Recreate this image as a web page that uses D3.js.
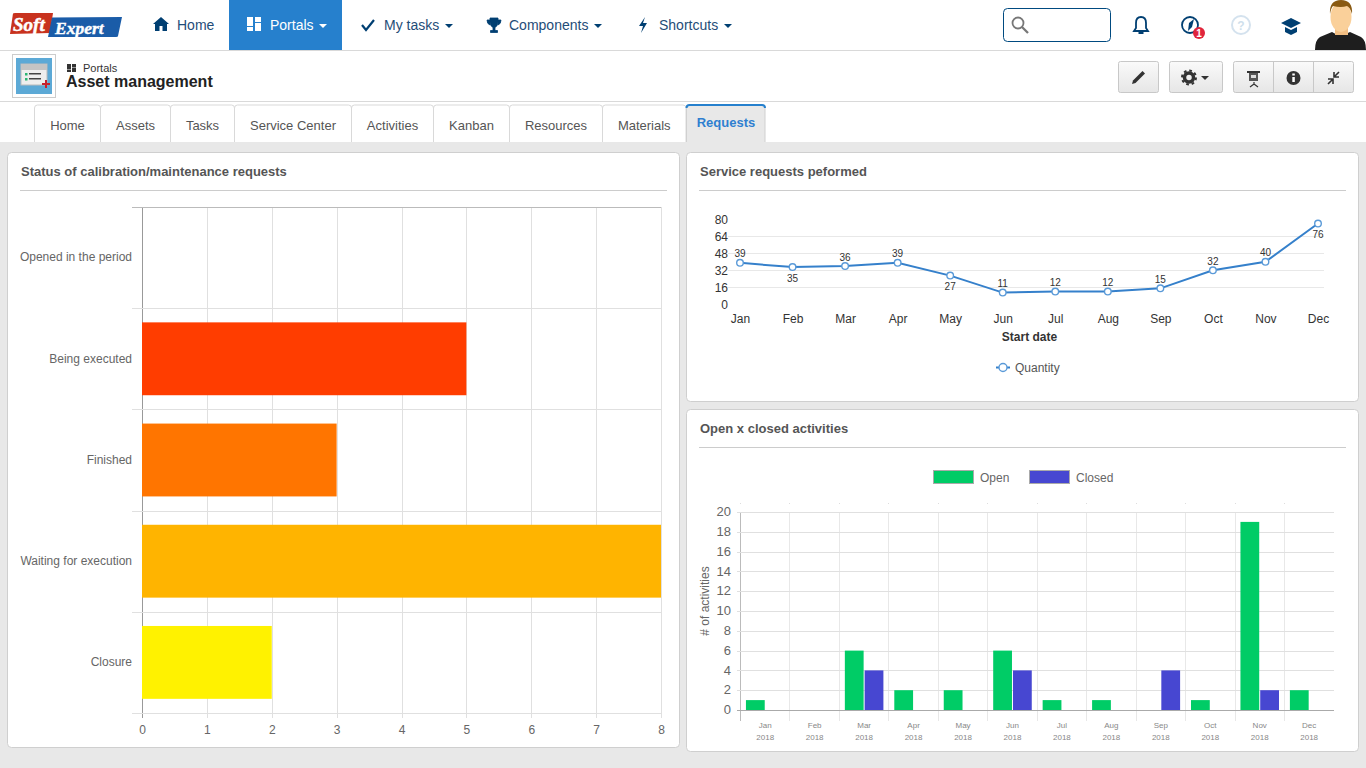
<!DOCTYPE html>
<html><head><meta charset="utf-8">
<script src="https://cdn.jsdelivr.net/npm/d3@7"></script>
<style>html,body{margin:0;padding:0;background:#e8e8e8;overflow:hidden}svg{display:block}text{font-family:"Liberation Sans",Arial,sans-serif}</style>
</head><body><svg id="c" width="1366" height="768"></svg>
<script>
// ---------- data ----------
const statusCategories = ["Opened in the period","Being executed","Finished","Waiting for execution","Closure"];
const statusValues = [0,5,3,8,2];
const statusColors = ["#ff3d00","#ff3d00","#ff7500","#ffb400","#fff200"];
const statusTicks = [0,1,2,3,4,5,6,7,8];

const requestMonths = ["Jan","Feb","Mar","Apr","May","Jun","Jul","Aug","Sep","Oct","Nov","Dec"];
const requestValues = [39,35,36,39,27,11,12,12,15,32,40,76];
const requestLabelBelow = ["Feb","May","Dec"];
const requestTicks = [0,16,32,48,64,80];

const activityYear = "2018";
const activitySeries = ["Open","Closed"];
const openValues = [1,0,6,2,2,6,1,1,0,1,19,2];
const closedValues = [0,0,4,0,0,4,0,0,4,0,2,0];
const activityTicks = [0,2,4,6,8,10,12,14,16,18,20];

const navLabels = ["Home","Portals","My tasks","Components","Shortcuts"];
const tabLabels = ["Home","Assets","Tasks","Service Center","Activities","Kanban","Resources","Materials"];
const activeTab = "Requests";

// ---------- page chrome ----------
const svg = d3.select("#c");
const NAVY="#003f72", INK="#333";
function rect(p,x,y,w,h,fill,stroke,r){const s=p.append("rect").attr("x",x).attr("y",y).attr("width",w).attr("height",h).attr("fill",fill||"none");if(stroke)s.attr("stroke",stroke);if(r)s.attr("rx",r);return s;}
function text(p,x,y,t,size,fill,o={}){return p.append("text").attr("x",x).attr("y",y).text(t).attr("font-size",size).attr("fill",fill).attr("font-weight",o.bold?"bold":null).attr("text-anchor",o.anchor||"start").attr("font-style",o.italic?"italic":null);}
function line(p,x1,y1,x2,y2,c,w){return p.append("line").attr("x1",x1).attr("y1",y1).attr("x2",x2).attr("y2",y2).attr("stroke",c).attr("stroke-width",w||1);}
function path(p,d,fill,stroke,w){return p.append("path").attr("d",d).attr("fill",fill||"none").attr("stroke",stroke||"none").attr("stroke-width",w||1);}
function caret(p,x,y,c){path(p,`M${x} ${y}h8l-4 4z`,c);}

rect(svg,0,0,1366,142,"#fff");
line(svg,0,50.5,1366,50.5,"#d9d9d9");
line(svg,0,101.5,1366,101.5,"#d9d9d9");

// logo
const logo=svg.append("g");
path(logo,"M13 13.500Q13.500 13 15 13L53 13L50 33L10 34Z","#c8321e");
path(logo,"M52 17.500L122 17L118 36Q118 37 116 37L48 37Z","#1a5ca8");
text(logo,13,31,"Soft",19,"#fff",{bold:true,italic:true}).style("font-family","'Liberation Serif',serif").attr("stroke","#fff").attr("stroke-width",.5);
text(logo,55,33.500,"Expert",17.500,"#fff",{bold:true,italic:true}).style("font-family","'Liberation Serif',serif").attr("stroke","#fff").attr("stroke-width",.4);

// nav
const nav=svg.append("g");
rect(nav,229,0,113,50,"#2680cd");
const navX=[177,270,384,509,659], navCaret=[null,319,445,594,724];
navLabels.forEach((l,i)=>{text(nav,navX[i],30,l,14,i==1?"#fff":"#1f4d78");if(navCaret[i])caret(nav,navCaret[i],24,i==1?"#fff":NAVY);});
path(nav,"M161 17l-8 7h2v7h4.500v-5h3v5H167v-7h2z",NAVY);
[[247,17,6,9],[247,27,6,4],[255,17,6,5],[255,23,6,8]].forEach(r=>rect(nav,r[0],r[1],r[2],r[3],"#fff"));
path(nav,"M362 25l4 5 8-10",null,NAVY,2.2);
path(nav,"M490 18h8v4q0 4-3 5.500v3h2.500v2h-7v-2h2.500v-3q-3-1.500-3-5.500zM490 20h-3q0 4 3 5M498 20h3q0 4-3 5",NAVY,NAVY,.8);
path(nav,"M645 17l-6 9h4l-2 7 6-10h-4z",NAVY);

// search + right icons
const tools=svg.append("g");
rect(tools,1003.500,8.500,107,33,"#fff","#004a80",4);
tools.append("circle").attr("cx",1018).attr("cy",23).attr("r",5.500).attr("fill","none").attr("stroke","#777").attr("stroke-width",1.800);
line(tools,1022,27,1028,33,"#777",2.300);
path(tools,"M1141 17q-5 0-5 6v5l-2 3h14l-2-3v-5q0-6-5-6zM1138.500 33h5",null,NAVY,1.800);
tools.append("circle").attr("cx",1190).attr("cy",25).attr("r",8).attr("fill","none").attr("stroke",NAVY).attr("stroke-width",1.800);
path(tools,"M1194 19l-2 8-4 4 1-8z",NAVY);
tools.append("circle").attr("cx",1199).attr("cy",33).attr("r",6).attr("fill","#e0243c");
text(tools,1199,36.500,"1",10,"#fff",{bold:true,anchor:"middle"});
tools.append("circle").attr("cx",1241).attr("cy",25).attr("r",9).attr("fill","#fff").attr("stroke","#d4e2ee").attr("stroke-width",2);
text(tools,1241,29.500,"?",12,"#cfdfec",{bold:true,anchor:"middle"});
path(tools,"M1291 18l10 5-10 5-10-5zM1285 27v5l6 3 6-3v-5l-6 3z",NAVY);

// avatar
const av=svg.append("g");
path(av,"M1315 50q0-10 5-13l12-5q8 6 18 0l11 5q5 3 5 13z","#1e1e1e");
rect(av,1335,25,13,10,"#f2be83");
av.append("ellipse").attr("cx",1341).attr("cy",17).attr("rx",10.500).attr("ry",15).attr("fill","#fad09a");
path(av,"M1330 14q-1-14 11-14q12 0 11 14q-2-7-5-8q-6 2-14 0q-2 2-3 8z","#8a5a12");

// page header
const head=svg.append("g");
rect(head,12.500,54.500,43,43,"#fff","#ccc");
rect(head,16,58,36,36,"#5ca9d6");
rect(head,21,64,26,21,"#eee","#bbb");
rect(head,21,64,26,6,"#c4c4c4");
[73,78].forEach(y=>{rect(head,25,y,2.500,2.500,"#2bb673");rect(head,29,y,12,1.500,"#444");});
path(head,"M42 84h8M46 80v8",null,"#c8202c",2);
[[67,64,4,5],[72,64,4,3],[72,67.500,4,4.500],[67,69.500,4,2.500]].forEach(r=>rect(head,r[0],r[1],r[2],r[3],"#333"));
text(head,83,72,"Portals",11,INK);
text(head,66,87,"Asset management",16,"#222",{bold:true});

const defs=svg.append("defs");
const lg=defs.append("linearGradient").attr("id","bg").attr("x1",0).attr("x2",0).attr("y1",0).attr("y2",1);
lg.append("stop").attr("offset",0).attr("stop-color","#fafafa");lg.append("stop").attr("offset",1).attr("stop-color","#e6e6e6");
function btn(x,w){const g=svg.append("g");rect(g,x+.5,61.500,w,31,"url(#bg)","#c8c8c8",2);return g;}
const b1=btn(1118,40);path(b1,"M1132 84l1-3.500 9.500-9.500 2.500 2.500-9.500 9.500z","#333");
const b2=btn(1169,53);b2.append("circle").attr("cx",1189).attr("cy",77.500).attr("r",4.500).attr("fill","none").attr("stroke","#333").attr("stroke-width",3.500);
b2.append("circle").attr("cx",1189).attr("cy",77.500).attr("r",7).attr("fill","none").attr("stroke","#333").attr("stroke-width",2).attr("stroke-dasharray","2.700 2.800");
caret(b2,1201,76,"#333");
const b3=btn(1233,120);line(b3,1273.500,62,1273.500,92,"#c8c8c8");line(b3,1313.500,62,1313.500,92,"#c8c8c8");
path(b3,"M1254 82v3M1250 87l4-3 4 3",null,"#333",1.200);rect(b3,1247,71,13,2,"#333");rect(b3,1249,73,9,8,"#555");rect(b3,1251,75,5,3,"#ddd");
b3.append("circle").attr("cx",1293.500).attr("cy",78).attr("r",7).attr("fill","#333");
rect(b3,1292.300,77,2.500,5,"#fff");rect(b3,1292.300,73.500,2.500,2,"#fff");
path(b3,"M1328 84l5-5M1328 79h5v5M1339 72l-5 5M1334 72v5h5",null,"#333",1.600);

// tabs
const tabEdges=[34.500,100.500,170.500,234.500,351.500,433.500,509.500,602.500,686];
const tabs=svg.append("g");
tabLabels.forEach((l,i)=>{const a=tabEdges[i],b=tabEdges[i+1];
  path(tabs,`M${a} 142V108q0-3 3-3H${b-3}q3 0 3 3V142`,"#fff","#d9d9d9");
  text(tabs,(a+b)/2,130,l,13,"#555",{anchor:"middle"});});
path(tabs,"M686.500 142V108q0-3 3-3H762q3 0 3 3V142","#e8e8e8","#d0d0d0");
path(tabs,"M686.500 108q0-3 3-3H762q3 0 3 3",null,"#2680cd",2);
text(tabs,726,127,activeTab,13,"#2f7fd0",{anchor:"middle",bold:true});

function panel(x,y,w,h,title){const g=svg.append("g");
  rect(g,x+.5,y+.5,w,h,"#fff","#cfcfcf",4);
  text(g,x+14,y+24,title,13,"#555",{bold:true});
  line(g,x+13,y+38.500,x+w-12,y+38.500,"#ccc");return g;}
function cleanAxis(g){g.select(".domain").remove();g.selectAll(".tick line").remove();}

// ---------- left: horizontal bars ----------
const pL=panel(7,152,672,595,"Status of calibration/maintenance requests");
const lx=d3.scaleLinear().domain([0,8]).range([142,661]);
const ly=d3.scaleBand().domain(statusCategories).range([207,713]).paddingInner(.28).paddingOuter(.14);
const lStep=ly.step();
pL.selectAll("line.v").data(statusTicks).join("line").attr("class","v").attr("x1",d=>Math.round(lx(d))+.5).attr("x2",d=>Math.round(lx(d))+.5).attr("y1",207).attr("y2",718).attr("stroke",d=>d==0?"#999":"#e0e0e0");
pL.selectAll("line.h").data(d3.range(statusCategories.length+1)).join("line").attr("class","h").attr("x1",132).attr("x2",661).attr("y1",d=>Math.round(207+d*lStep)+.5).attr("y2",d=>Math.round(207+d*lStep)+.5).attr("stroke",(d)=>d==0?"#bbb":"#e0e0e0");
pL.selectAll("rect.b").data(statusCategories).join("rect").attr("class","b").attr("x",lx(0)).attr("y",d=>ly(d)).attr("height",ly.bandwidth()).attr("width",(d,i)=>lx(statusValues[i])-lx(0)).attr("fill",(d,i)=>statusColors[i]);
const lxa=pL.append("g").attr("transform","translate(0,734)").call(d3.axisBottom(lx).tickValues(statusTicks).tickSize(0).tickPadding(0));
cleanAxis(lxa);lxa.selectAll("text").attr("font-size",12).attr("fill","#666").attr("dy",0).attr("y",0);
const lya=pL.append("g").attr("transform","translate(132,0)").call(d3.axisLeft(ly).tickSize(0).tickPadding(0));
cleanAxis(lya);lya.selectAll("text").attr("font-size",12).attr("fill","#666");

// ---------- top right: line ----------
const pR=panel(686,152,672,249,"Service requests peformed");
const rx=d3.scalePoint().domain(requestMonths).range([740,1318]);
const ry=d3.scaleLinear().domain([0,80]).range([304.300,219.300]);
pR.selectAll("line.g").data(requestTicks.filter(t=>t>0&&t<80)).join("line").attr("class","g").attr("x1",728).attr("x2",1324).attr("y1",d=>Math.round(ry(d))+.5).attr("y2",d=>Math.round(ry(d))+.5).attr("stroke","#e8e8e8");
const rya=pR.append("g").attr("transform","translate(728,0)").call(d3.axisLeft(ry).tickValues(requestTicks).tickSize(0).tickPadding(0));
cleanAxis(rya);rya.selectAll("text").attr("font-size",12).attr("fill",INK);
const rxa=pR.append("g").attr("transform","translate(0,323)").call(d3.axisBottom(rx).tickSize(0).tickPadding(0));
cleanAxis(rxa);rxa.selectAll("text").attr("font-size",12).attr("fill",INK).attr("y",0).attr("dy",0);
text(pR,1029.500,341,"Start date",12,INK,{bold:true,anchor:"middle"});
pR.append("path").attr("d",d3.line().x((d,i)=>rx(requestMonths[i])).y(d=>ry(d))(requestValues)).attr("fill","none").attr("stroke","#3580cb").attr("stroke-width",2);
pR.selectAll("circle.p").data(requestValues).join("circle").attr("class","p").attr("cx",(d,i)=>rx(requestMonths[i])).attr("cy",d=>ry(d)).attr("r",3.300).attr("fill","#fff").attr("stroke","#5a9ad8").attr("stroke-width",1.400);
pR.selectAll("text.l").data(requestValues).join("text").attr("class","l").attr("x",(d,i)=>rx(requestMonths[i])).attr("y",(d,i)=>ry(d)+(requestLabelBelow.includes(requestMonths[i])?14.500:-5.500)).attr("text-anchor","middle").attr("font-size",10).attr("fill",INK).text(d=>d);
line(pR,996,367.500,1010,367.500,"#3580cb",2);
pR.append("circle").attr("cx",1003).attr("cy",367.500).attr("r",4).attr("fill","#fff").attr("stroke","#5a9ad8").attr("stroke-width",1.400);
text(pR,1015,372,"Quantity",12,"#555");

// ---------- bottom right: grouped bars ----------
const pB=panel(686,409,672,342,"Open x closed activities");
const bx=d3.scaleBand().domain(requestMonths).range([740.500,1333.900]);
const bw=bx.bandwidth();
const bs=d3.scaleBand().domain(activitySeries).range([bw*.1,bw*.9]);
const by=d3.scaleLinear().domain([0,20]).range([710,512]);
pB.selectAll("line.v").data(requestMonths).join("line").attr("class","v").attr("x1",d=>Math.floor(bx(d))+.5).attr("x2",d=>Math.floor(bx(d))+.5).attr("y1",512).attr("y2",721).attr("stroke",(d,i)=>i==0?"#bbb":"#e8e8e8");
pB.selectAll("rect.t").data(requestMonths).join("rect").attr("class","t").attr("x",d=>Math.floor(bx(d))).attr("y",503).attr("width",1).attr("height",1).attr("fill","#ddd");
pB.selectAll("line.h").data(activityTicks).join("line").attr("class","h").attr("x1",737).attr("x2",1334).attr("y1",d=>Math.round(by(d))+.5).attr("y2",d=>Math.round(by(d))+.5).attr("stroke",d=>d==0?"#aaa":"#e0e0e0");
const bColors=["#00cc66","#4747d1"];
[openValues,closedValues].forEach((vals,k)=>{
  pB.selectAll("rect.s"+k).data(vals).join("rect").attr("class","s"+k)
    .attr("x",(d,i)=>bx(requestMonths[i])+bs(activitySeries[k])+.5).attr("width",bs.bandwidth()-1)
    .attr("y",d=>by(d)).attr("height",d=>by(0)-by(d)).attr("fill",bColors[k]);
});
const bya=pB.append("g").attr("transform","translate(731,-0.500)").call(d3.axisLeft(by).tickValues(activityTicks).tickSize(0).tickPadding(0));
cleanAxis(bya);bya.selectAll("text").attr("font-size",13).attr("fill","#666");
const bxa=pB.append("g").attr("transform","translate(0,728)").call(d3.axisBottom(bx).tickSize(0).tickPadding(0));
cleanAxis(bxa);bxa.selectAll("text").attr("font-size",8).attr("fill","#888").attr("y",0).attr("dy",0);
pB.selectAll("text.yr").data(requestMonths).join("text").attr("class","yr").attr("x",d=>bx(d)+bw/2).attr("y",740).attr("text-anchor","middle").attr("font-size",8).attr("fill","#888").text(activityYear);
pB.append("text").attr("transform","translate(709,601) rotate(-90)").attr("text-anchor","middle").attr("font-size",12).attr("fill","#666").text("# of activities");
const legX=[933,1029];
activitySeries.forEach((s,k)=>{rect(pB,legX[k]+.5,470.500,40,13,bColors[k],"#aaa");text(pB,legX[k]+47,482,s,12,"#666");});
</script></body></html>
